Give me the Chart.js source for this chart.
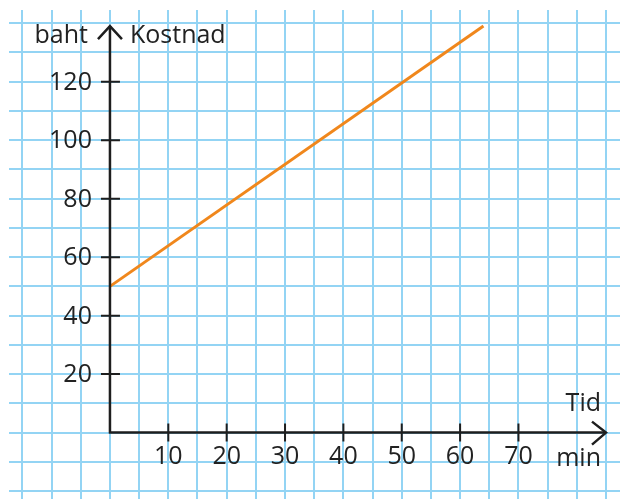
<!DOCTYPE html>
<html>
<head>
<meta charset="utf-8">
<script src="https://cdn.jsdelivr.net/npm/chart.js@4/dist/chart.umd.min.js"></script>
<style>
  html, body { margin: 0; padding: 0; background: #fff; }
  canvas { display: block; }
</style>
</head>
<body>
<canvas id="kostnadChart" width="620" height="499"></canvas>
<script>
// data
const minutes = [0, 64];
const cost = [50, 139];
const xTickValues = [10, 20, 30, 40, 50, 60, 70];
const yTickValues = [20, 40, 60, 80, 100, 120];

const fontFamily = '"Open Sans", "DejaVu Sans", sans-serif';
const textColor = '#222222';
const axisColor = '#1e1e1e';
const gridColor = '#93d4f4';

// axes with arrows, tick marks and labels, drawn from the scales
const axesPlugin = {
    id: 'axesPlugin',
    afterDatasetsDraw(chart) {
        const ctx = chart.ctx;
        const xs = chart.scales.x;
        const ys = chart.scales.y;
        const x0 = xs.getPixelForValue(0);
        const y0 = ys.getPixelForValue(0);
        const yTop = ys.getPixelForValue(139);
        const xEnd = xs.getPixelForValue(85);

        ctx.save();
        ctx.strokeStyle = axisColor;
        ctx.lineWidth = 2.5;
        ctx.lineCap = 'butt';

        ctx.beginPath();
        ctx.moveTo(x0, y0 + 1);
        ctx.lineTo(x0, yTop);
        ctx.moveTo(x0 - 1, y0);
        ctx.lineTo(xEnd, y0);
        ctx.stroke();

        // arrows
        ctx.lineJoin = 'miter';
        ctx.beginPath();
        ctx.moveTo(x0 - 12, yTop + 13);
        ctx.lineTo(x0, yTop);
        ctx.lineTo(x0 + 12, yTop + 13);
        ctx.moveTo(xEnd - 14, y0 - 11);
        ctx.lineTo(xEnd, y0);
        ctx.lineTo(xEnd - 14, y0 + 12);
        ctx.stroke();

        // tick marks
        ctx.lineWidth = 2;
        ctx.beginPath();
        yTickValues.forEach(v => {
            const py = ys.getPixelForValue(v);
            ctx.moveTo(x0 - 9, py);
            ctx.lineTo(x0 + 10, py);
        });
        xTickValues.forEach(v => {
            const px = xs.getPixelForValue(v);
            ctx.moveTo(px, y0 - 9);
            ctx.lineTo(px, y0 + 9);
        });
        ctx.stroke();

        // labels
        ctx.fillStyle = textColor;
        ctx.font = '25px ' + fontFamily;
        ctx.textBaseline = 'middle';
        ctx.textAlign = 'right';
        yTickValues.forEach(v => {
            ctx.fillText(String(v), x0 - 18, ys.getPixelForValue(v) + 1);
        });
        ctx.textAlign = 'center';
        xTickValues.forEach(v => {
            ctx.fillText(String(v), xs.getPixelForValue(v), y0 + 24);
        });

        ctx.textBaseline = 'alphabetic';
        ctx.textAlign = 'right';
        ctx.fillText('baht', x0 - 22, yTop + 17);
        ctx.fillText('Tid', xEnd - 5, y0 - 22);
        ctx.fillText('min', xEnd - 5, y0 + 33);
        ctx.textAlign = 'left';
        ctx.fillText('Kostnad', x0 + 20, yTop + 17);
        ctx.restore();
    }
};

new Chart(document.getElementById('kostnadChart'), {
    type: 'line',
    data: {
        datasets: [{
            data: minutes.map((m, i) => ({ x: m, y: cost[i] })),
            borderColor: '#f0871c',
            borderWidth: 3,
            pointRadius: 0,
            fill: false,
            tension: 0
        }]
    },
    options: {
        responsive: false,
        animation: false,
        layout: { padding: { left: 9, top: 10, right: 0, bottom: 0 } },
        plugins: {
            legend: { display: false },
            tooltip: { enabled: false }
        },
        scales: {
            x: {
                type: 'linear',
                min: -17.3,
                max: 87.4,
                ticks: { display: false, stepSize: 5, includeBounds: false, autoSkip: false },
                grid: { color: gridColor, lineWidth: 2, drawTicks: false },
                border: { display: false }
            },
            y: {
                type: 'linear',
                min: -22.7,
                max: 144.5,
                ticks: { display: false, stepSize: 10, includeBounds: false, autoSkip: false },
                grid: { color: gridColor, lineWidth: 2, drawTicks: false },
                border: { display: false }
            }
        }
    },
    plugins: [axesPlugin]
});
</script>
</body>
</html>
